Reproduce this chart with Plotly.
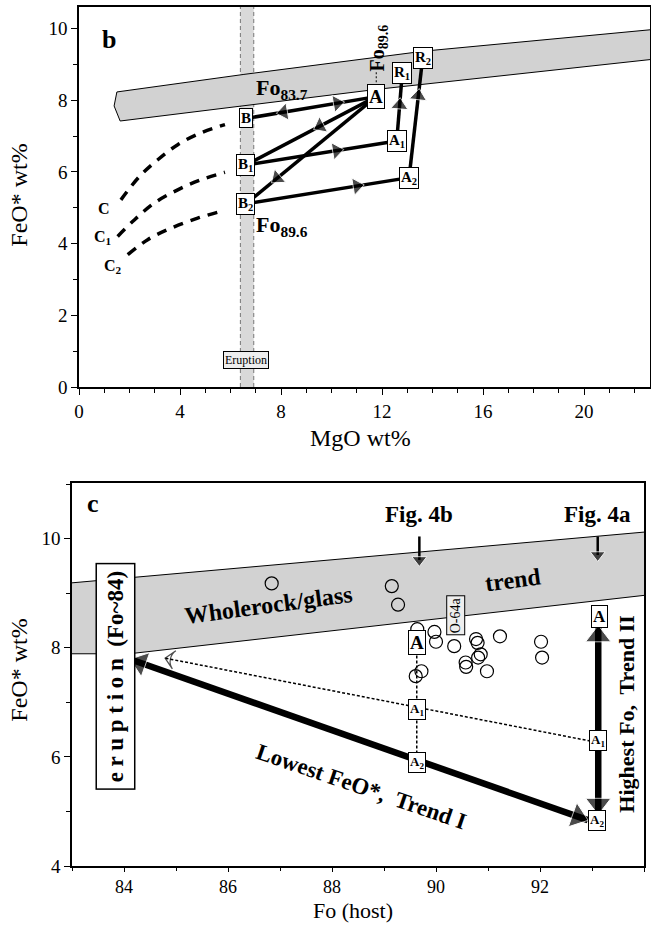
import plotly.graph_objects as go

W, H = 651, 928
FONT = "Liberation Serif, Times New Roman, serif"

# ---------------- Panel b (MgO vs FeO*) ----------------
b_band_up_x = [1.50, 6.53, 13.68, 22.70]
b_band_up_y = [8.23, 8.72, 9.37, 9.97]
b_band_lo_x = [22.70, 11.76, 1.63, 1.39]
b_band_lo_y = [9.14, 8.30, 7.42, 7.84]
b_erupt_x = [6.39, 6.92]

node_names = ["A", "B", "B1", "B2", "A1", "A2", "R1", "R2"]
node_x = [11.77, 6.61, 6.61, 6.61, 12.58, 13.07, 12.80, 13.61]
node_y = [8.10, 7.49, 6.19, 5.11, 6.86, 5.84, 8.75, 9.19]
node_labels = ["A", "B", "B<sub>1</sub>", "B<sub>2</sub>", "A<sub>1</sub>",
               "A<sub>2</sub>", "R<sub>1</sub>", "R<sub>2</sub>"]

seg_from = ["B", "B1", "B2", "B1", "B2", "A1", "A2"]
seg_to = ["A", "A", "A", "A1", "A2", "R1", "R2"]

arrow_seg = [0, 0, 1, 2, 3, 4, 5, 6]
arrow_t = [0.70, 0.29, 0.57, 0.24, 0.60, 0.68, 0.53, 0.68]
arrow_dir = [1, -1, -1, -1, 1, 1, 1, 1]

c_x = [1.66, 2.39, 3.12, 3.91, 4.83, 5.78]
c_y = [5.22, 5.87, 6.34, 6.76, 7.09, 7.32]
c1_x = [1.53, 2.19, 2.98, 3.91, 4.83, 5.78]
c1_y = [4.20, 4.66, 5.13, 5.50, 5.78, 5.99]
c2_x = [1.93, 2.72, 3.64, 4.70, 5.78]
c2_y = [3.69, 4.11, 4.43, 4.71, 4.93]

# ---------------- Panel c (Fo host vs FeO*) ----------------
c_band_up_x = [83.0, 94.0]
c_band_up_y = [9.19, 10.12]
c_band_lo_x = [94.0, 84.1, 83.0]
c_band_lo_y = [8.96, 7.89, 7.89]

fo_host = [86.84, 89.15, 89.27, 89.64, 89.97, 90.00, 90.35, 90.57, 90.58,
           90.77, 90.80, 90.81, 90.86, 90.98, 91.23, 92.02, 92.04, 89.61, 89.72]
feo_inc = [9.18, 9.13, 8.79, 8.34, 8.29, 8.11, 8.03, 7.73, 7.65,
           8.16, 8.09, 7.82, 7.88, 7.57, 8.21, 8.11, 7.82, 7.48, 7.57]

trend1_x = [92.92, 84.12]
trend1_y = [4.84, 7.79]
trend2_x = [93.12, 93.12]
trend2_y = [4.95, 8.40]
dot_x = [92.97, 84.79]
dot_y = [6.29, 7.81]
dv_x = [89.63, 89.63]
dv_y = [7.95, 5.95]
fig_x = [89.68, 93.11]
fig_top = [10.04, 10.04]
fig_tip = [9.49, 9.58]

c_node_x = [89.64, 89.64, 89.64, 93.14, 93.12, 93.10]
c_node_y = [8.09, 6.86, 5.90, 8.58, 6.30, 4.84]
c_node_labels = ["A", "A<sub>1</sub>", "A<sub>2</sub>", "A", "A<sub>1</sub>", "A<sub>2</sub>"]
c_node_size = [19, 13, 13, 17, 13, 13]

fig = go.Figure()

# ---- panel b traces ----
fig.add_trace(go.Scatter(
    x=b_band_up_x + b_band_lo_x + [b_band_up_x[0]],
    y=b_band_up_y + b_band_lo_y + [b_band_up_y[0]],
    fill="toself", fillcolor="#d2d2d2", mode="lines",
    line=dict(color="black", width=1), xaxis="x", yaxis="y", hoverinfo="skip"))

for cx, cy in [(c_x, c_y), (c1_x, c1_y), (c2_x, c2_y)]:
    fig.add_trace(go.Scatter(x=cx, y=cy, mode="lines",
                             line=dict(color="black", width=3.5, dash="10px,8px", shape="spline"),
                             xaxis="x", yaxis="y", hoverinfo="skip"))

nx = dict(zip(node_names, node_x))
ny = dict(zip(node_names, node_y))
sx, sy = [], []
for f, t in zip(seg_from, seg_to):
    sx += [nx[f], nx[t], None]
    sy += [ny[f], ny[t], None]
fig.add_trace(go.Scatter(x=sx, y=sy, mode="lines", line=dict(color="black", width=3.5),
                         xaxis="x", yaxis="y", hoverinfo="skip"))

for si, t, d in zip(arrow_seg, arrow_t, arrow_dir):
    x0, y0 = nx[seg_from[si]], ny[seg_from[si]]
    x1, y1 = nx[seg_to[si]], ny[seg_to[si]]
    hx, hy = x0 + t * (x1 - x0), y0 + t * (y1 - y0)
    px, py = hx - d * 0.02 * (x1 - x0), hy - d * 0.02 * (y1 - y0)
    fig.add_trace(go.Scatter(x=[px, hx], y=[py, hy], mode="markers",
                             marker=dict(symbol="triangle-up", size=[0, 15], angleref="previous", color="black"),
                             xaxis="x", yaxis="y", hoverinfo="skip"))

# small dashed pointer from vertical label to A
fig.add_trace(go.Scatter(x=[nx["A"], nx["A"]], y=[8.78, 8.42], mode="lines",
                         line=dict(color="black", width=1, dash="2px,2px"),
                         xaxis="x", yaxis="y", hoverinfo="skip"))

# ---- panel c traces ----
fig.add_trace(go.Scatter(
    x=c_band_up_x + c_band_lo_x + [c_band_up_x[0]],
    y=c_band_up_y + c_band_lo_y + [c_band_up_y[0]],
    fill="toself", fillcolor="#d2d2d2", mode="lines",
    line=dict(color="rgba(0,0,0,0)", width=0), xaxis="x2", yaxis="y2", hoverinfo="skip"))
fig.add_trace(go.Scatter(x=c_band_up_x, y=c_band_up_y, mode="lines", line=dict(color="black", width=1),
                         xaxis="x2", yaxis="y2", hoverinfo="skip"))
fig.add_trace(go.Scatter(x=c_band_lo_x, y=c_band_lo_y, mode="lines", line=dict(color="black", width=1),
                         xaxis="x2", yaxis="y2", hoverinfo="skip"))

fig.add_trace(go.Scatter(x=fo_host, y=feo_inc, mode="markers",
                         marker=dict(symbol="circle-open", size=13, color="black", line=dict(width=1.2)),
                         xaxis="x2", yaxis="y2", hoverinfo="skip"))

fig.add_trace(go.Scatter(x=dv_x, y=dv_y, mode="lines", line=dict(color="black", width=1.5, dash="3px,2px"),
                         xaxis="x2", yaxis="y2", hoverinfo="skip"))
fig.add_trace(go.Scatter(x=dot_x, y=dot_y, mode="lines", line=dict(color="black", width=1.5, dash="3px,2px"),
                         xaxis="x2", yaxis="y2", hoverinfo="skip"))
fig.add_trace(go.Scatter(x=[dot_x[0] + 0.98 * (dot_x[1] - dot_x[0]), dot_x[1]],
                         y=[dot_y[0] + 0.98 * (dot_y[1] - dot_y[0]), dot_y[1]], mode="markers",
                         marker=dict(symbol="arrow-wide-open", size=[0, 13], angleref="previous", color="black",
                                     line=dict(width=1.2, color="black")),
                         xaxis="x2", yaxis="y2", hoverinfo="skip"))


def thick_double(xs, ys, w, msize, ta, tb):
    fig.add_trace(go.Scatter(x=xs, y=ys, mode="lines", line=dict(color="black", width=w),
                             xaxis="x2", yaxis="y2", hoverinfo="skip"))
    for a, b in [(0, 1), (1, 0)]:
        hx = xs[b] + ta * (xs[a] - xs[b])
        hy = ys[b] + ta * (ys[a] - ys[b])
        px = xs[b] + tb * (xs[a] - xs[b])
        py = ys[b] + tb * (ys[a] - ys[b])
        fig.add_trace(go.Scatter(x=[px, hx], y=[py, hy], mode="markers",
                                 marker=dict(symbol="triangle-up", size=[0, msize], angleref="previous",
                                             color="black"),
                                 xaxis="x2", yaxis="y2", hoverinfo="skip"))


thick_double(trend1_x, trend1_y, 6.5, 22, 0.022, 0.06)
thick_double(trend2_x, trend2_y, 6.5, 22, 0.055, 0.15)

for fx, ft, fp in zip(fig_x, fig_top, fig_tip):
    fig.add_trace(go.Scatter(x=[fx, fx], y=[ft, fp + 0.12], mode="lines", line=dict(color="black", width=2.5),
                             xaxis="x2", yaxis="y2", hoverinfo="skip"))
    fig.add_trace(go.Scatter(x=[fx, fx], y=[ft, fp + 0.12], mode="markers",
                             marker=dict(symbol="triangle-down", size=[0, 13], color="black"),
                             xaxis="x2", yaxis="y2", hoverinfo="skip"))

# ---- shapes ----
shapes = [
    dict(type="rect", xref="x", yref="y", x0=b_erupt_x[0], x1=b_erupt_x[1], y0=0, y1=10.6,
         fillcolor="#d9d9d9", line=dict(width=0), layer="below"),
]
for ex in b_erupt_x:
    shapes.append(dict(type="line", xref="x", yref="y", x0=ex, x1=ex, y0=0, y1=10.6,
                       line=dict(color="#777777", width=1, dash="4px,3px"), layer="below"))

# ---- annotations ----
ann = []


def A(text, x, y, size, xref="x", yref="y", bold=True, box=False, angle=0, bg="white", pad=1, bw=1,
      yanchor="middle"):
    d = dict(text=text, x=x, y=y, xref=xref, yref=yref, showarrow=False, textangle=angle,
             font=dict(family=FONT, size=size, color="black", weight="bold" if bold else "normal"),
             xanchor="center", yanchor=yanchor)
    if box:
        d.update(bgcolor=bg, bordercolor="black", borderwidth=bw, borderpad=pad)
    ann.append(d)


for lab, x, y in zip(node_labels, node_x, node_y):
    A(lab, x, y, 19 if lab == "A" else 15, box=True)

A("b", 1.17, 9.70, 26)
A("Fo<sub>83.7</sub>", 8.05, 8.30, 22)
A("Fo<sub>89.6</sub>", 8.05, 4.50, 22)
A("Fo<sub>89.6</sub>", 11.85, 9.45, 20, angle=-90)
A("C", 1.00, 4.99, 16)
A("C<sub>1</sub>", 0.94, 4.18, 16)
A("C<sub>2</sub>", 1.34, 3.37, 16)
A("Eruption", 6.62, 0.76, 12, bold=False, box=True, bg="#eeeeee")

for lab, x, y, s in zip(c_node_labels, c_node_x, c_node_y, c_node_size):
    A(lab, x, y, s, xref="x2", yref="y2", box=True)

A("c", 83.40, 10.64, 26, xref="x2", yref="y2")
A("Fig. 4b", 89.68, 10.44, 23, xref="x2", yref="y2")
A("Fig. 4a", 93.10, 10.44, 23, xref="x2", yref="y2")
A("Wholerock/glass", 86.78, 8.79, 24, xref="x2", yref="y2", angle=-7.6)
A("trend", 91.48, 9.25, 24, xref="x2", yref="y2", angle=-7.6)
A("Lowest FeO*,  Trend I", 88.55, 5.45, 23, xref="x2", yref="y2", angle=19)
A("Highest Fo,  Trend II", 93.66, 6.78, 22, xref="x2", yref="y2", angle=-90)
A("e r u p t i o n  (Fo~84)", 83.83, 7.47, 23, xref="x2", yref="y2", angle=-90, box=True, pad=6, bw=1.5)
A("O-64a", 90.37, 8.60, 14, xref="x2", yref="y2", bold=False, angle=-90, box=True, bg="#eeeeee")

# axis titles (paper coords from pixel positions)
A("FeO* wt%", 18.7 / W, 1 - 195 / H, 24, xref="paper", yref="paper", bold=False, angle=-90)
A("MgO wt%", 360 / W, 1 - 438 / H, 24, xref="paper", yref="paper", bold=False)
A("FeO* wt%", 18.7 / W, 1 - 670 / H, 24, xref="paper", yref="paper", bold=False, angle=-90)
A("Fo (host)", 353 / W, 1 - 910 / H, 22, xref="paper", yref="paper", bold=False)

axis_common = dict(showgrid=False, zeroline=False, showline=True, linecolor="black", linewidth=1.5,
                   mirror=True, ticks="outside", tickwidth=1.2, tickcolor="black", automargin=False)
tf19 = dict(family=FONT, size=19, color="black")
tf18 = dict(family=FONT, size=18, color="black")

fig.update_layout(
    width=W, height=H, margin=dict(l=0, r=0, t=0, b=0),
    paper_bgcolor="white", plot_bgcolor="white", showlegend=False,
    xaxis=dict(domain=[79 / W, 650 / W], range=[0, 22.61], tick0=0, dtick=4, ticklen=6, tickfont=tf19,
               minor=dict(dtick=1, ticks="outside", ticklen=4, tickcolor="black"), anchor="y", **axis_common),
    yaxis=dict(domain=[1 - 387 / H, 1 - 7 / H], range=[0, 10.6], tick0=0, dtick=2, ticklen=6, tickfont=tf19,
               minor=dict(dtick=1, ticks="outside", ticklen=4, tickcolor="black"), anchor="x", **axis_common),
    xaxis2=dict(domain=[72 / W, 644 / W], range=[83, 94], tick0=84, dtick=2, ticklen=4, tickfont=tf18,
                minor=dict(dtick=1, ticks="outside", ticklen=3, tickcolor="black"), anchor="y2", **axis_common),
    yaxis2=dict(domain=[1 - 866 / H, 1 - 483 / H], range=[4, 11.02], tick0=4, dtick=2, ticklen=6, tickfont=tf19,
                minor=dict(dtick=1, ticks="outside", ticklen=4, tickcolor="black"), anchor="x2", **axis_common),
    shapes=shapes, annotations=ann,
)

fig.write_html("out.html", config={"displayModeBar": False},
               post_script="document.body.style.margin='0';document.body.style.overflow='hidden';")
